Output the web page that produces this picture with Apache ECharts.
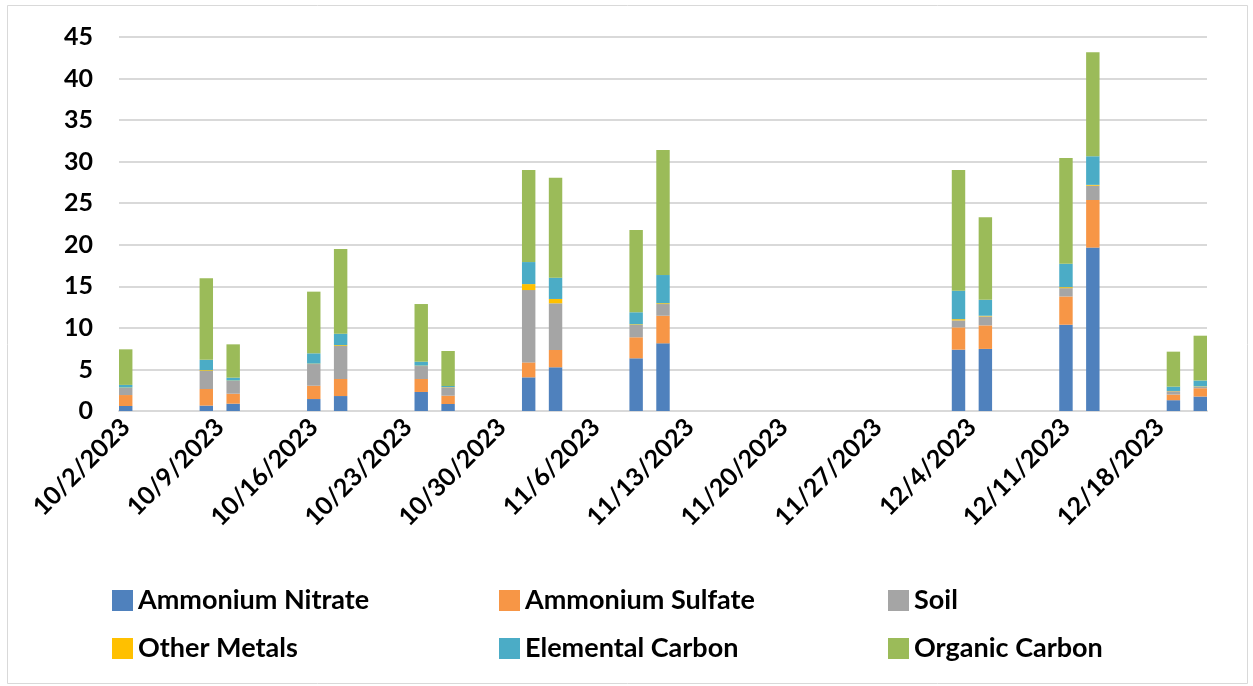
<!DOCTYPE html>
<html>
<head>
<meta charset="utf-8">
<script src="https://cdn.jsdelivr.net/npm/echarts@6/dist/echarts.min.js"></script>
<style>
html,body{margin:0;padding:0;background:#fff;}
#chart{width:1253px;height:686px;}
</style>
</head>
<body>
<div id="chart"></div>
<script>
// Axis spans every day from first to last sample day
const axisStart = [2023, 10, 2];
const axisEnd = [2023, 12, 21];

// Sample dates
const sampleDates = ['10/2/2023','10/8/2023','10/10/2023','10/16/2023','10/18/2023','10/24/2023','10/26/2023',
  '11/1/2023','11/3/2023','11/9/2023','11/11/2023','12/3/2023','12/5/2023','12/11/2023','12/13/2023','12/19/2023','12/21/2023'];

// Species values
const ammoniumNitrate = [0.6, 0.65, 0.88, 1.44, 1.8, 2.29, 0.84, 4.05, 5.26, 6.34, 8.14, 7.38, 7.47, 10.38, 19.66, 1.3, 1.74];
const ammoniumSulfate = [1.32, 2.0, 1.2, 1.6, 2.05, 1.56, 1.0, 1.8, 2.08, 2.53, 3.32, 2.68, 2.83, 3.4, 5.73, 0.68, 1.0];
const soil            = [0.85, 2.16, 1.53, 2.61, 3.97, 1.56, 1.01, 8.7, 5.62, 1.48, 1.41, 0.84, 1.08, 1.0, 1.72, 0.4, 0.17];
const otherMetals     = [0.05, 0.1, 0.05, 0.05, 0.1, 0.05, 0.03, 0.72, 0.52, 0.08, 0.1, 0.15, 0.08, 0.12, 0.1, 0.03, 0.05];
const elementalCarbon = [0.32, 1.25, 0.35, 1.24, 1.38, 0.47, 0.13, 2.65, 2.56, 1.45, 3.39, 3.43, 1.92, 2.82, 3.44, 0.52, 0.71];
const organicCarbon   = [4.28, 9.81, 4.01, 7.42, 10.2, 6.94, 4.21, 11.08, 12.03, 9.9, 15.04, 14.51, 9.93, 12.71, 12.51, 4.21, 5.39];

const seriesNames = ['Ammonium Nitrate','Ammonium Sulfate','Soil','Other Metals','Elemental Carbon','Organic Carbon'];
const seriesColors = ['#4F81BD','#F79646','#A5A5A5','#FFC000','#4BACC6','#9BBB59'];
const seriesValues = [ammoniumNitrate, ammoniumSulfate, soil, otherMetals, elementalCarbon, organicCarbon];

// Build daily categories
const categories = [];
{
  let d = new Date(axisStart[0], axisStart[1]-1, axisStart[2]);
  const end = new Date(axisEnd[0], axisEnd[1]-1, axisEnd[2]);
  while (d <= end) {
    categories.push((d.getMonth()+1) + '/' + d.getDate() + '/' + d.getFullYear());
    d = new Date(d.getFullYear(), d.getMonth(), d.getDate()+1);
  }
}

function buildData(values){
  const arr = categories.map(() => null);
  sampleDates.forEach((s, i) => {
    const idx = categories.indexOf(s);
    if (idx >= 0) arr[idx] = values[i];
  });
  return arr;
}

const FONT = 'Lato, "Open Sans", sans-serif';
const chart = echarts.init(document.getElementById('chart'), null, {renderer:'canvas'});

const series = seriesNames.map((name, i) => ({
  name: name,
  type: 'bar',
  stack: 'total',
  barCategoryGap: '0%',
  itemStyle: {color: seriesColors[i]},
  data: buildData(seriesValues[i]),
  animation: false
}));

const legendCommon = {
  orient: 'vertical',
  top: 587,
  padding: 0,
  itemWidth: 21,
  itemHeight: 21,
  itemGap: 21,
  icon: 'rect',
  selectedMode: false,
  textStyle: {fontFamily: FONT, fontWeight: 'bold', fontSize: 27, color: '#000'}
};

chart.setOption({
  animation: false,
  backgroundColor: '#fff',
  color: seriesColors,
  graphic: [{
    type: 'rect',
    shape: {x: 7.5, y: 5.5, width: 1240, height: 678},
    style: {fill: 'none', stroke: '#d9d9d9', lineWidth: 1},
    silent: true
  }],
  grid: {left: 119, right: 46, top: 37, bottom: 275, containLabel: false},
  legend: [
    Object.assign({}, legendCommon, {left: 112, data: ['Ammonium Nitrate','Other Metals']}),
    Object.assign({}, legendCommon, {left: 499, data: ['Ammonium Sulfate','Elemental Carbon']}),
    Object.assign({}, legendCommon, {left: 888, data: ['Soil','Organic Carbon']})
  ],
  xAxis: {
    type: 'category',
    data: categories,
    boundaryGap: true,
    axisLine: {show: true, lineStyle: {color: '#d9d9d9', width: 2}},
    axisTick: {show: false},
    axisLabel: {
      interval: 6,
      rotate: 45,
      margin: 12,
      fontFamily: FONT, fontWeight: 'bold', fontSize: 25, color: '#000'
    },
    splitLine: {show: false}
  },
  yAxis: {
    type: 'value',
    min: 0, max: 45, interval: 5,
    axisLine: {show: false},
    axisTick: {show: false},
    axisLabel: {margin: 26, fontFamily: FONT, fontWeight: 'bold', fontSize: 25, color: '#000'},
    splitLine: {lineStyle: {color: '#d9d9d9', width: 2}}
  },
  series: series
});
</script>
</body>
</html>
